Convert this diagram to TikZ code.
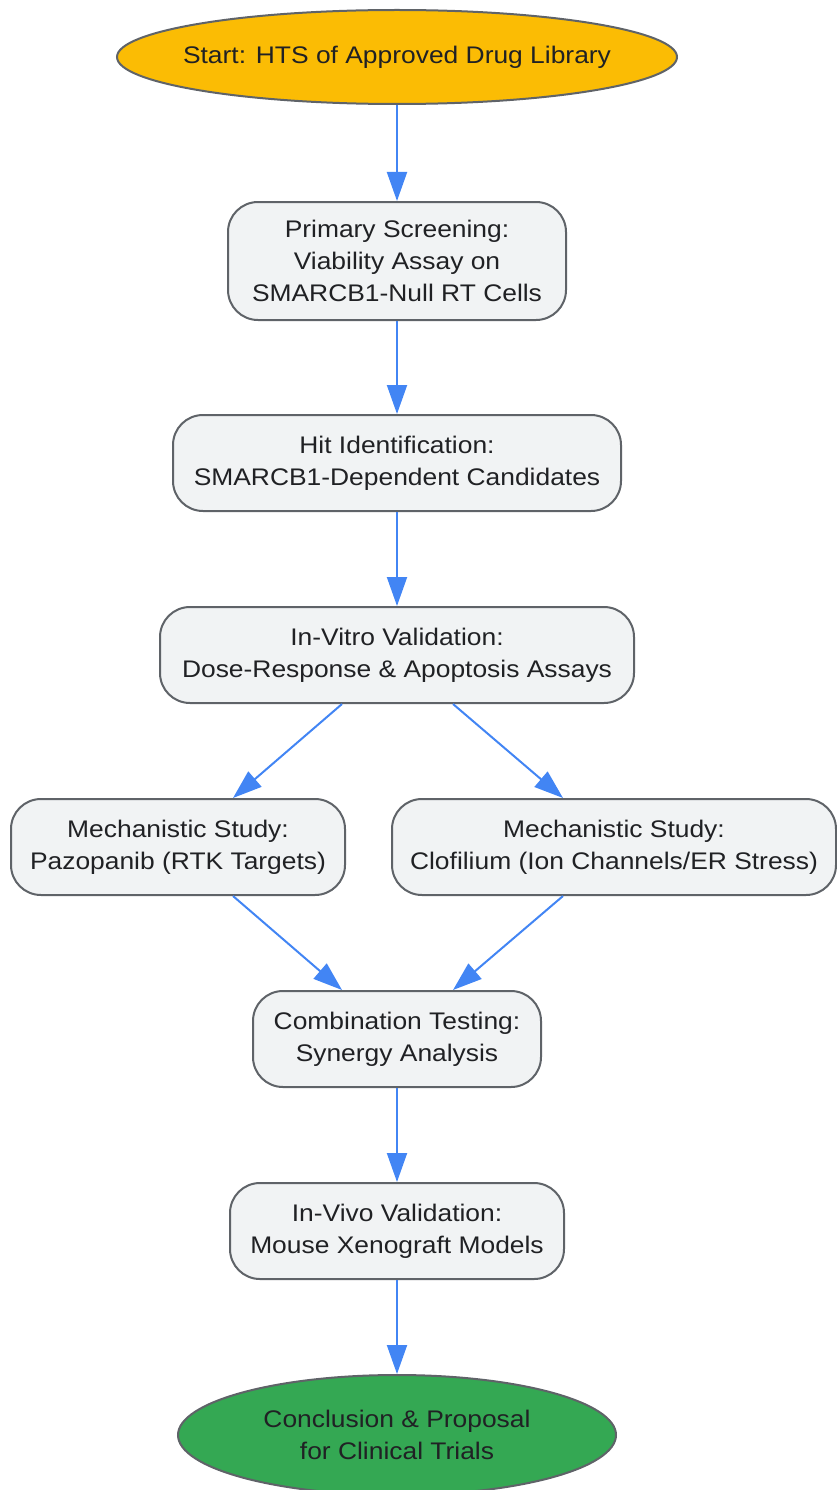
\documentclass[tikz,border=0pt]{standalone}
\usepackage{fontspec}
\setmainfont{Liberation Sans}[FakeStretch=1.1]
\usepackage{tikz}
\usetikzlibrary{shapes.geometric, arrows.meta}

\definecolor{startfill}{HTML}{FBBC04}
\definecolor{endfill}{HTML}{34A853}
\definecolor{boxfill}{HTML}{F1F3F4}
\definecolor{boxline}{HTML}{5F6368}
\definecolor{flowblue}{HTML}{4285F4}
\definecolor{textdark}{HTML}{202124}

\begin{document}
\begin{tikzpicture}[x=1pt, y=-1pt,
    stepbox/.style={draw=boxline, line width=2pt, fill=boxfill, rounded corners=30pt,
      align=center, text=textdark, font=\fontsize{24}{32}\selectfont, inner sep=0pt,
      minimum height=96pt},
    terminal/.style={ellipse, draw=boxline, line width=2pt, align=center, text=textdark,
      font=\fontsize{24}{32}\selectfont, inner sep=0pt},
    flow/.style={draw=flowblue, line width=2pt, -{Triangle[length=29pt, width=20pt]}}]

    \useasboundingbox (0,0) rectangle (837,1490);

    % start of the screen
    \node[terminal, fill=startfill, inner xsep=-16pt, minimum width=560pt, minimum height=94pt] (start) at (397, 57)
        {Start: HTS of Approved Drug Library};

    % screening and hits
    \node[stepbox, minimum width=338pt, minimum height=118pt] (primary) at (397, 261)
        {Primary Screening:\\Viability Assay on\\SMARCB1-Null RT Cells};
    \node[stepbox, minimum width=448pt] (hits) at (397, 463)
        {Hit Identification:\\SMARCB1-Dependent Candidates};
    \node[stepbox, minimum width=474pt] (vitro) at (397, 655)
        {In-Vitro Validation:\\Dose-Response \& Apoptosis Assays};

    % the two mechanistic studies
    \node[stepbox, minimum width=334pt] (pazo) at (178, 847)
        {Mechanistic Study:\\Pazopanib (RTK Targets)};
    \node[stepbox, minimum width=444pt] (clofi) at (614, 847)
        {Mechanistic Study:\\Clofilium (Ion Channels/ER Stress)};

    % combination and in vivo
    \node[stepbox, minimum width=288pt] (combo) at (397, 1039)
        {Combination Testing:\\Synergy Analysis};
    \node[stepbox, minimum width=334pt] (vivo) at (397, 1231)
        {In-Vivo Validation:\\Mouse Xenograft Models};

    % end of the flow
    \node[terminal, fill=endfill, minimum width=438pt, minimum height=120pt] (concl) at (397, 1435)
        {Conclusion \& Proposal\\for Clinical Trials};

    % draw the arrows
    \draw[flow] (start) -- (primary);
    \draw[flow] (primary) -- (hits);
    \draw[flow] (hits) -- (vitro);
    \draw[flow] ([xshift=-55pt]vitro.south) -- ([xshift=55pt]pazo.north);
    \draw[flow] ([xshift=56pt]vitro.south) -- ([xshift=-51pt]clofi.north);
    \draw[flow] ([xshift=55pt]pazo.south) -- ([xshift=-55pt]combo.north);
    \draw[flow] ([xshift=-51pt]clofi.south) -- ([xshift=56pt]combo.north);
    \draw[flow] (combo) -- (vivo);
    \draw[flow] (vivo) -- (concl);

\end{tikzpicture}
\end{document}
